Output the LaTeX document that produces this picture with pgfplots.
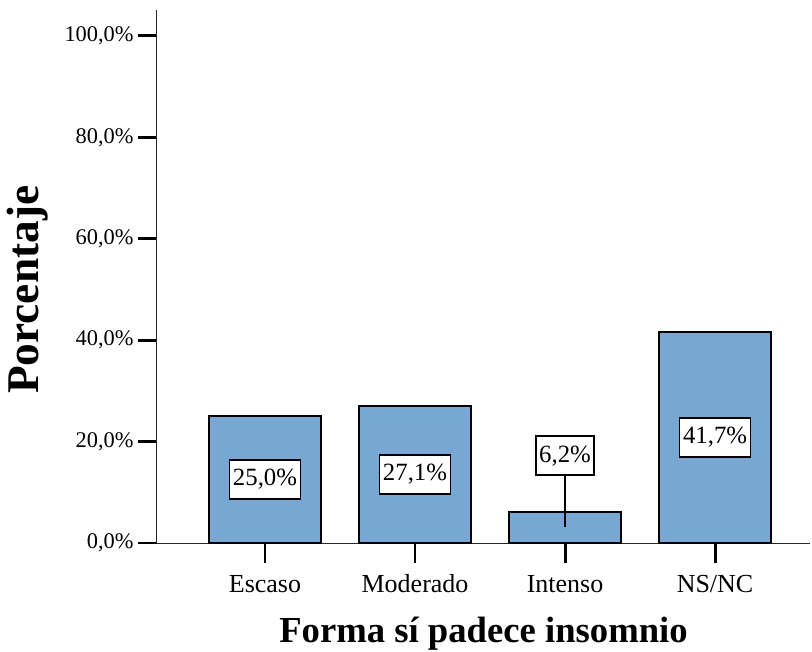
\documentclass[border=0pt]{standalone}
\usepackage{fontspec}
\setmainfont{Liberation Serif}
\usepackage{pgfplots}
\pgfplotsset{compat=1.18}
\definecolor{barblue}{RGB}{121,167,212}

\begin{document}
\begin{tikzpicture}
\path[use as bounding box] (-117.75pt,-81pt) rectangle (491.25pt,407.25pt);
\begin{axis}[
    scale only axis, width=489.75pt, height=399.75pt,
    xmin=0.28, xmax=4.633, ymin=0, ymax=105.1,
    axis lines=left,
    axis line style={-, line width=0.75pt, black!85},
    clip=false,
    tick align=outside,
    xtick={1,2,3,4},
    xticklabels={Escaso,Moderado,Intenso,NS/NC},
    ytick={0,20,...,100},
    yticklabel={\pgfmathprintnumber{\tick}\%},
    yticklabel style={font=\fontsize{16.8}{18}\selectfont, xshift=-9.75pt,
        /pgf/number format/.cd, fixed, fixed zerofill, precision=1, use comma, assume math mode=true},
    typeset ticklabels with strut,
    xticklabel style={font=\fontsize{19.5}{21}\selectfont, yshift=-14.25pt},
    major tick style={line width=2.2pt, black},
    every x tick/.append style={line width=2.2pt, black},
    every y tick/.append style={line width=2.2pt, black},
    xtick style={/pgfplots/major tick length=15pt},
    ytick style={/pgfplots/major tick length=14pt},
    ylabel={Porcentaje},
    ylabel style={font=\bfseries\fontsize{34}{37}\selectfont,
        at={(axis description cs:-0.198,0.475)}, anchor=center},
    xlabel={Forma sí padece insomnio},
    xlabel style={font=\bfseries\fontsize{27.5}{30}\selectfont,
        at={(axis description cs:0.5,-0.1705)}, anchor=center},
]
% bars
\addplot[ybar, bar width=84pt, fill=barblue, draw=black, line width=1.5pt]
    coordinates {(1,25.0) (2,27.1) (3,6.2) (4,41.7)};
% leader line for the small bar
\addplot[black, line width=1.5pt, mark=none] coordinates {(3,3.2) (3,17.2)};
% value labels
\addplot[draw=none, mark=none, nodes near coords, point meta=explicit symbolic,
    every node near coord/.style={draw=black, line width=1.2pt, fill=white,
        inner xsep=2.5pt, inner ysep=7pt, anchor=center,
        font=\fontsize{18.6}{20}\selectfont}]
    coordinates {(1,12.5) [25,0\%] (2,13.55) [27,1\%] (3,17.2) [6,2\%] (4,20.85) [41,7\%]};
\end{axis}
\end{tikzpicture}
\end{document}
